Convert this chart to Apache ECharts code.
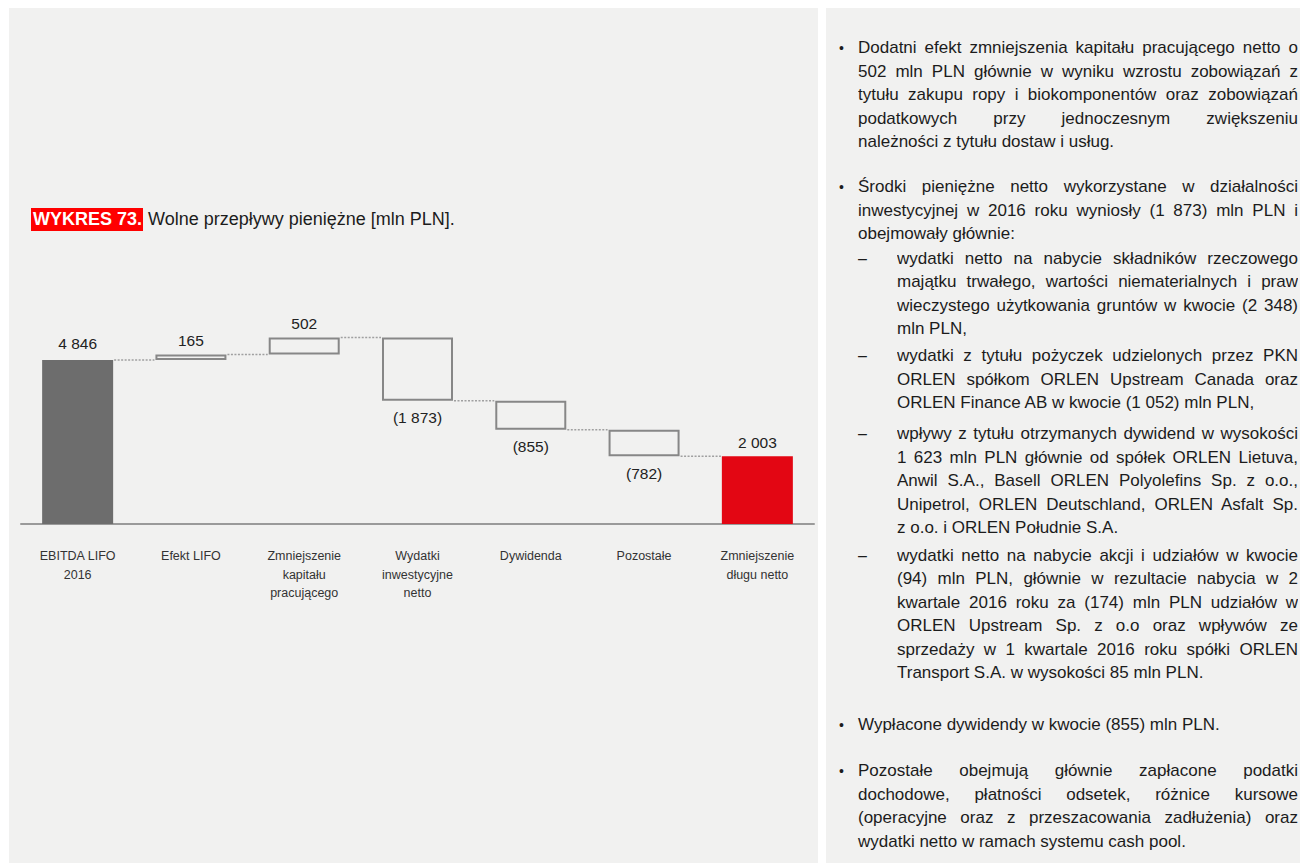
<!DOCTYPE html>
<html><head><meta charset="utf-8">
<script src="https://cdn.jsdelivr.net/npm/echarts@6/dist/echarts.min.js"></script>
<style>
html,body{margin:0;padding:0;background:#fff;width:1304px;height:863px;overflow:hidden;font-family:"Liberation Sans",Arial,sans-serif;}
#lp{position:absolute;left:9px;top:8px;width:809px;height:855px;background:#f1f1f0;}
#rp{position:absolute;left:826px;top:8px;width:474px;height:855px;background:#f1f1f0;}
#chart{position:absolute;left:0;top:0;width:1304px;height:863px;}
#txt{position:absolute;left:0;top:0;width:1304px;height:863px;z-index:2;color:#1c1c1c;font-size:17px;pointer-events:none;}
.ln{position:absolute;white-space:nowrap;line-height:20px;height:20px;}
.j{text-align:justify;text-align-last:justify;white-space:normal;overflow:hidden;}
.mk{position:absolute;line-height:20px;height:20px;}
#tlab{position:absolute;left:31px;top:208px;width:112px;height:23px;background:#ff0000;overflow:hidden;}
#tlab span{position:absolute;left:2px;top:0;line-height:23px;color:#fff;font-weight:bold;font-size:18px;white-space:nowrap;}
#ttxt{position:absolute;left:148px;top:208px;line-height:23px;font-size:18px;color:#1c1c1c;white-space:nowrap;}
</style></head>
<body>
<div id="lp"></div><div id="rp"></div>
<div id="chart"></div>
<div id="txt"><div id="tlab"><span></span></div><div id="ttxt"></div></div>
<script>
// ---- chart data ----
const categories = ['EBITDA LIFO\n2016', 'Efekt LIFO', 'Zmniejszenie\nkapitału\npracującego', 'Wydatki\ninwestycyjne\nnetto', 'Dywidenda', 'Pozostałe', 'Zmniejszenie\ndługu netto'];
const values = [4846, 165, 502, -1873, -855, -782, 2003];
const isTotal = [true, false, false, false, false, false, true];
const titleLabel = 'WYKRES 73.';
const titleText = 'Wolne przepływy pieniężne [mln PLN].';

// ---- right-hand text ----
const paragraphs = [
  {mark:'•', lines:[
    ['Dodatni efekt zmniejszenia kapitału pracującego netto o',1],
    ['502 mln PLN głównie w wyniku wzrostu zobowiązań z',1],
    ['tytułu zakupu ropy i biokomponentów oraz zobowiązań',1],
    ['podatkowych przy jednoczesnym zwiększeniu',1],
    ['należności z tytułu dostaw i usług.',0]]},
  {mark:'•', lines:[
    ['Środki pieniężne netto wykorzystane w działalności',1],
    ['inwestycyjnej w 2016 roku wyniosły (1 873) mln PLN i',1],
    ['obejmowały głównie:',0]]},
  {mark:'–', lines:[
    ['wydatki netto na nabycie składników rzeczowego',1],
    ['majątku trwałego, wartości niematerialnych i praw',1],
    ['wieczystego użytkowania gruntów w kwocie (2 348)',1],
    ['mln PLN,',0]]},
  {mark:'–', lines:[
    ['wydatki z tytułu pożyczek udzielonych przez PKN',1],
    ['ORLEN spółkom ORLEN Upstream Canada oraz',1],
    ['ORLEN Finance AB w kwocie (1 052) mln PLN,',0]]},
  {mark:'–', lines:[
    ['wpływy z tytułu otrzymanych dywidend w wysokości',1],
    ['1 623 mln PLN głównie od spółek ORLEN Lietuva,',1],
    ['Anwil S.A., Basell ORLEN Polyolefins Sp. z o.o.,',1],
    ['Unipetrol, ORLEN Deutschland, ORLEN Asfalt Sp.',1],
    ['z o.o. i ORLEN Południe S.A.',0]]},
  {mark:'–', lines:[
    ['wydatki netto na nabycie akcji i udziałów w kwocie',1],
    ['(94) mln PLN, głównie w rezultacie nabycia w 2',1],
    ['kwartale 2016 roku za (174) mln PLN udziałów w',1],
    ['ORLEN Upstream Sp. z o.o oraz wpływów ze',1],
    ['sprzedaży w 1 kwartale 2016 roku spółki ORLEN',1],
    ['Transport S.A. w wysokości 85 mln PLN.',0]]},
  {mark:'•', lines:[
    ['Wypłacone dywidendy w kwocie (855) mln PLN.',0]]},
  {mark:'•', lines:[
    ['Pozostałe obejmują głównie zapłacone podatki',1],
    ['dochodowe, płatności odsetek, różnice kursowe',1],
    ['(operacyjne oraz z przeszacowania zadłużenia) oraz',1],
    ['wydatki netto w ramach systemu cash pool.',0]]}
];
// layout of the paragraphs (first-line centre, line step)
const paraLayout = [[48,23.5],[187,23.5],[258.5,23.5],[356,23.5],[434,23.5],[555.5,23.5],[725,23.5],[771,23.5]];

const RIGHT = 1298;
const txt = document.getElementById('txt');
document.querySelector('#tlab span').textContent = titleLabel;
document.getElementById('ttxt').textContent = titleText;
paragraphs.forEach((p, k) => {
  const [y0, lh] = paraLayout[k];
  const bullet = p.mark === '•';
  const x = bullet ? 858 : 897;
  const m = document.createElement('div');
  m.className = 'mk'; m.textContent = p.mark;
  m.style.left = (bullet ? 839 : 858) + 'px';
  m.style.top = (y0 - 10) + 'px';
  m.style.fontSize = bullet ? '14px' : '16px';
  txt.appendChild(m);
  p.lines.forEach((ln, i) => {
    const d = document.createElement('div');
    d.className = 'ln' + (ln[1] ? ' j' : '');
    d.textContent = ln[0];
    d.style.left = x + 'px';
    d.style.top = (y0 + i * lh - 10) + 'px';
    if (ln[1]) d.style.width = (RIGHT - x) + 'px';
    txt.appendChild(d);
  });
});

// ---- waterfall geometry derived from the values ----
const bases = [], heights = [], levels = [];
let running = 0;
values.forEach((v, i) => {
  if (isTotal[i]) { bases.push(0); heights.push(Math.abs(v)); running = v; }
  else if (v >= 0) { bases.push(running); heights.push(v); running += v; }
  else { bases.push(running + v); heights.push(-v); running += v; }
  if (i < values.length - 1) levels.push([i, running]);
});
function fmt(v) {
  const s = String(Math.abs(v)).replace(/\B(?=(\d{3})+(?!\d))/g, ' ');
  return v < 0 ? '(' + s + ')' : s;
}
const FONT = '"Liberation Sans", Arial, sans-serif';
const BAR_W = 71;
const mainData = values.map((v, i) => {
  let style;
  if (i === 0) style = {color:'#6d6d6d'};
  else if (isTotal[i]) style = {color:'#e30613'};
  else style = {color:'rgba(0,0,0,0)', borderColor:'#878787', borderWidth:2};
  return {
    value: heights[i],
    itemStyle: style,
    label: {show:true, position: v < 0 ? 'bottom' : 'top', distance: v < 0 ? 8 : (i === 0 ? 7 : 5),
      formatter: fmt(v), color:'#222', fontSize:15.5, fontFamily:FONT, lineHeight:18}
  };
});

const chart = echarts.init(document.getElementById('chart'), null, {renderer:'svg', width:1304, height:863});
chart.setOption({
  animation:false,
  grid:{left:21, right:490, top:320.93, bottom:327},
  xAxis:{type:'category', data:categories,
    axisLine:{lineStyle:{color:'#9a9a9a', width:2}}, axisTick:{show:false},
    axisLabel:{color:'#333', fontSize:12.5, lineHeight:18.5, margin:11, interval:0, fontFamily:FONT},
    splitLine:{show:false}},
  yAxis:{type:'value', min:-355, max:6000, show:false},
  series:[
    {type:'bar', stack:'w', barWidth:BAR_W, data:bases, itemStyle:{color:'rgba(0,0,0,0)'}, silent:true, emphasis:{disabled:true}},
    {type:'bar', stack:'w', barWidth:BAR_W, data:mainData, emphasis:{disabled:true}},
    {type:'custom', data:levels, encode:{x:0, y:1}, silent:true, z:1,
      renderItem:(params, api) => {
        const i = api.value(0), l = api.value(1);
        const p1 = api.coord([i, l]), p2 = api.coord([i + 1, l]);
        return {type:'line', shape:{x1:p1[0] + BAR_W / 2 + 1, y1:p1[1], x2:p2[0] - BAR_W / 2 - 1, y2:p2[1]},
          style:{stroke:'#a0a0a0', lineWidth:1.5, lineDash:[2,1.5]}};
      }}
  ]
});
</script>
</body></html>
